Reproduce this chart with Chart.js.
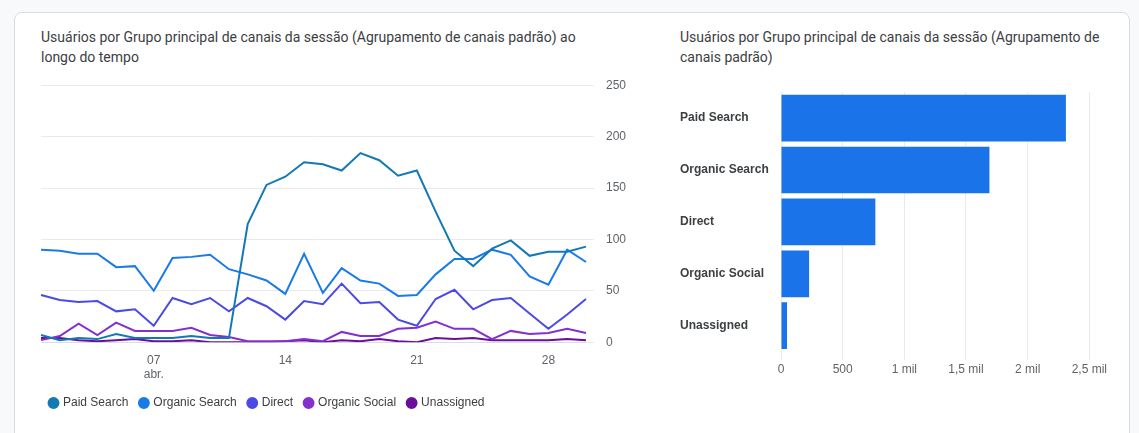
<!DOCTYPE html>
<html><head><meta charset="utf-8">
<script src="https://cdn.jsdelivr.net/npm/chart.js@4"></script>
<style>
body{margin:0;background:#f8f9fa;font-family:Roboto,sans-serif;width:1139px;height:433px;overflow:hidden}
.card{position:absolute;left:14px;top:12px;width:1114px;height:440px;background:#fff;border:1px solid #dadce0;border-radius:8px}
.title{position:absolute;font-size:14px;line-height:20px;color:#3c4043}
.box{position:absolute}
</style></head><body>
<div class="card"></div>
<div class="title" style="left:41px;top:27px;width:570px">Usuários por Grupo principal de canais da sessão (Agrupamento de canais padrão) ao longo do tempo</div>
<div class="title" style="left:680px;top:27px;width:430px">Usuários por Grupo principal de canais da sessão (Agrupamento de canais padrão)</div>
<div class="box" style="left:38px;top:66px;width:600px;height:353px"><canvas id="lineChart"></canvas></div>
<div class="box" style="left:680px;top:82px;width:430px;height:298px"><canvas id="barChart"></canvas></div>
<script>
// April 1 .. 30
const days = Array.from({length: 30}, (_, i) => String(i + 1).padStart(2, '0'));
const paidSearch = [7,2,4,3,8,4,4,4,6,4,4,115,153,161,175,173,167,184,177,162,167,127,89,74,91,99,84,88,88,93];
const organicSearch = [90,89,86,86,73,74,50,82,83,85,71,66,60,47,86,48,72,60,57,45,46,66,81,81,90,85,64,56,90,78];
const direct = [46,41,39,40,30,32,16,43,37,43,30,43,35,22,40,37,57,38,39,22,16,42,51,32,41,43,28,13,27,42];
const organicSocial = [2,6,18,7,19,11,11,11,14,7,5,1,1,1,3,1,10,6,6,13,14,20,13,13,3,11,8,9,13,9];
const unassigned = [4,4,2,1,2,3,1,1,2,0,0,0,0,1,2,0,2,1,3,1,0,4,3,4,2,2,2,2,3,2];
const yTicks = [0, 50, 100, 150, 200, 250];

const channels = ['Paid Search', 'Organic Search', 'Direct', 'Organic Social', 'Unassigned'];
const channelTotals = [2310, 1690, 765, 228, 49];
const colors = ['#1379b5', '#1a7ae6', '#4b4ae6', '#8430ce', '#6a0f9a'];

const seriesList = [paidSearch, organicSearch, direct, organicSocial, unassigned];

new Chart(document.getElementById('lineChart'), {
  type: 'line',
  data: {
    labels: days,
    datasets: seriesList.map((d, i) => ({
      label: channels[i], data: d, borderColor: colors[i], backgroundColor: colors[i],
      borderWidth: 2, pointRadius: 0, tension: 0
    }))
  },
  options: {
    responsive: true, maintainAspectRatio: false, animation: false,
    layout: { padding: { left: 0, right: 0, top: 0 } },
    scales: {
      x: {
        grid: { display: false }, border: { color: '#dadce0' },
        ticks: {
          autoSkip: false, maxRotation: 0, color: '#5f6368', font: { size: 12 },
          callback: (v, i) => i === 6 ? ['07', 'abr.'] : ([13, 20, 27].includes(i) ? days[i] : '')
        }
      },
      y: {
        position: 'right', min: 0, max: 250,
        afterBuildTicks: ax => { ax.ticks = yTicks.map(v => ({ value: v })); },
        grid: { color: '#e8eaed' }, border: { display: false },
        ticks: { color: '#5f6368', font: { size: 12 }, padding: 12 }
      }
    },
    plugins: {
      legend: {
        position: 'bottom', align: 'start',
        labels: { usePointStyle: true, pointStyle: 'circle', boxWidth: 7, boxHeight: 7, color: '#3c4043', font: { size: 12 }, padding: 12 }
      }
    }
  }
});

new Chart(document.getElementById('barChart'), {
  type: 'bar',
  data: {
    labels: channels,
    datasets: [{ data: channelTotals, backgroundColor: '#1a73e8', barPercentage: 0.9, categoryPercentage: 1 }]
  },
  options: {
    indexAxis: 'y', responsive: true, maintainAspectRatio: false, animation: false,
    scales: {
      x: {
        min: 0, max: 2500,
        ticks: {
          stepSize: 500, color: '#5f6368', font: { size: 12 },
          callback: v => v === 0 ? '0' : v === 500 ? '500' : String(v / 1000).replace('.', ',') + ' mil'
        },
        grid: { color: '#e8eaed' }, border: { display: false }
      },
      y: {
        grid: { display: false }, border: { display: false },
        ticks: { color: '#3c4043', font: { size: 12, weight: 'bold' }, crossAlign: 'far' },
        afterFit: ax => { ax.width = 101; }
      }
    },
    plugins: { legend: { display: false } }
  }
});
</script>
</body></html>
